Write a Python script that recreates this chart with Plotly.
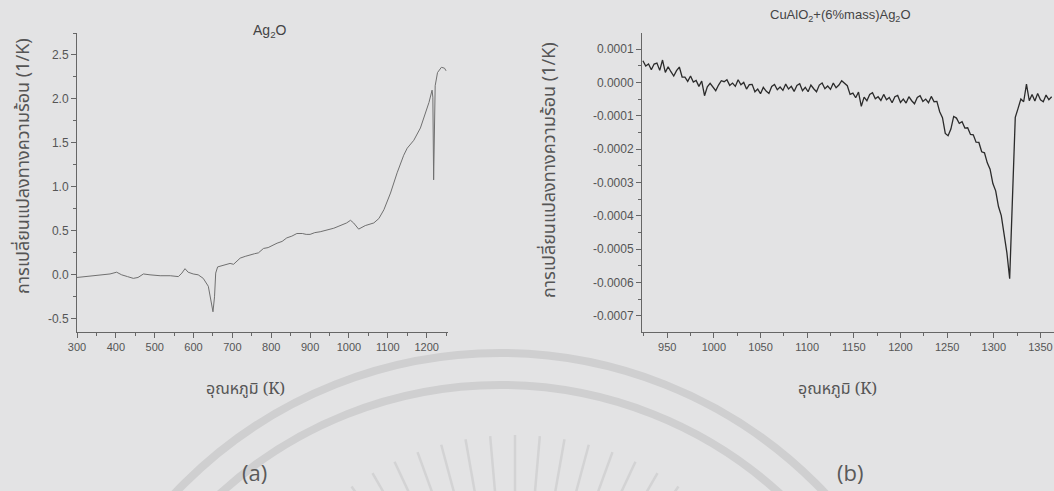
import plotly.graph_objects as go
import math

# ---------------- data ----------------
a_temp = [300, 320, 341, 360, 385, 402, 415, 430, 445, 457, 471, 488, 514, 540, 561, 570,
          578, 586, 599, 612, 625, 638, 645, 650, 654, 657, 662, 670, 677, 686, 694, 703,
          712, 720, 733, 746, 757, 767, 780, 792, 800, 815, 828, 840, 853, 866, 880, 890,
          900, 912, 926, 945, 961, 972, 982, 994, 1004, 1012, 1025, 1042, 1064, 1077, 1090,
          1107, 1124, 1141, 1150, 1167, 1184, 1197, 1206, 1214, 1216, 1218, 1220, 1222,
          1228, 1238, 1246, 1250]
a_val = [-0.03, -0.02, -0.01, 0.0, 0.01, 0.03, 0.0, -0.02, -0.04, -0.03, 0.01, 0.0, -0.01,
         -0.01, -0.02, 0.02, 0.07, 0.03, 0.01, 0.0, -0.04, -0.13, -0.28, -0.42, -0.25, 0.02,
         0.09, 0.10, 0.11, 0.12, 0.13, 0.12, 0.16, 0.19, 0.21, 0.23, 0.24, 0.25, 0.30, 0.31,
         0.33, 0.36, 0.38, 0.42, 0.44, 0.47, 0.47, 0.46, 0.46, 0.48, 0.49, 0.51, 0.53, 0.55,
         0.57, 0.59, 0.62, 0.59, 0.52, 0.56, 0.59, 0.64, 0.74, 0.93, 1.16, 1.36, 1.44, 1.53,
         1.67, 1.84, 1.96, 2.10, 2.02, 1.08, 1.70, 2.15, 2.30, 2.36, 2.35, 2.32]

b_temp = [924, 927, 930, 933, 936, 939, 942, 945, 948, 951,
          954, 957, 960, 963, 966, 969, 972, 975, 978, 981,
          984, 987, 990, 993, 996, 999, 1002, 1005, 1008, 1011,
          1014, 1017, 1020, 1023, 1026, 1029, 1032, 1035, 1038, 1041,
          1044, 1047, 1050, 1053, 1056, 1059, 1062, 1065, 1068, 1071,
          1074, 1077, 1080, 1083, 1086, 1089, 1092, 1095, 1098, 1101,
          1104, 1107, 1110, 1113, 1116, 1119, 1122, 1125, 1128, 1131,
          1134, 1137, 1140, 1143, 1146, 1149, 1152, 1155, 1158, 1161,
          1164, 1167, 1170, 1173, 1176, 1179, 1182, 1185, 1188, 1191,
          1194, 1197, 1200, 1203, 1206, 1209, 1212, 1215, 1218, 1221,
          1224, 1227, 1230, 1233, 1236, 1239, 1242, 1245, 1248, 1251,
          1254, 1257, 1260, 1263, 1266, 1269, 1272, 1275, 1278, 1281,
          1284, 1287, 1290, 1293, 1296, 1299, 1302, 1305, 1308, 1311,
          1314, 1317, 1320, 1323, 1326, 1329, 1332, 1335, 1338, 1341,
          1344, 1347, 1350, 1353, 1356, 1359, 1362]
b_val = [0.65e-4, 0.49e-4, 0.55e-4, 0.38e-4, 0.55e-4, 0.58e-4, 0.36e-4, 0.67e-4, 0.30e-4, 0.47e-4,
         0.32e-4, 0.19e-4, 0.35e-4, 0.46e-4, 0.16e-4, 0.16e-4, 0.03e-4, 0.19e-4, 0.01e-4, 0.06e-4,
         -0.12e-4, 0.04e-4, -0.40e-4, -0.13e-4, -0.03e-4, -0.15e-4, -0.25e-4, -0.08e-4, 0.05e-4, 0.02e-4,
         0.08e-4, -0.09e-4, -0.02e-4, -0.12e-4, 0.08e-4, -0.07e-4, 0.00e-4, -0.20e-4, -0.07e-4, -0.06e-4,
         -0.28e-4, -0.20e-4, -0.34e-4, -0.15e-4, -0.26e-4, -0.33e-4, -0.12e-4, -0.06e-4, -0.22e-4, -0.14e-4,
         -0.24e-4, -0.05e-4, -0.20e-4, -0.12e-4, -0.27e-4, -0.09e-4, -0.04e-4, -0.25e-4, -0.15e-4, -0.28e-4,
         -0.08e-4, -0.19e-4, -0.28e-4, -0.08e-4, -0.02e-4, -0.19e-4, -0.11e-4, -0.21e-4, -0.02e-4, -0.16e-4,
         -0.08e-4, 0.05e-4, -0.03e-4, -0.10e-4, -0.36e-4, -0.32e-4, -0.46e-4, -0.29e-4, -0.72e-4, -0.44e-4,
         -0.55e-4, -0.36e-4, -0.31e-4, -0.49e-4, -0.43e-4, -0.54e-4, -0.36e-4, -0.52e-4, -0.45e-4, -0.61e-4,
         -0.43e-4, -0.39e-4, -0.60e-4, -0.50e-4, -0.62e-4, -0.43e-4, -0.55e-4, -0.64e-4, -0.45e-4, -0.40e-4,
         -0.57e-4, -0.50e-4, -0.61e-4, -0.42e-4, -0.58e-4, -0.57e-4, -0.88e-4, -1.06e-4, -1.53e-4, -1.60e-4,
         -1.40e-4, -1.02e-4, -1.07e-4, -1.23e-4, -1.18e-4, -1.37e-4, -1.36e-4, -1.56e-4, -1.57e-4, -1.79e-4,
         -1.80e-4, -2.08e-4, -2.11e-4, -2.41e-4, -2.60e-4, -3.03e-4, -3.25e-4, -3.72e-4, -3.99e-4, -4.58e-4,
         -5.10e-4, -5.88e-4, -3.30e-4, -1.05e-4, -0.78e-4, -0.50e-4, -0.58e-4, -0.05e-4, -0.55e-4, -0.36e-4,
         -0.56e-4, -0.33e-4, -0.52e-4, -0.58e-4, -0.38e-4, -0.52e-4, -0.43e-4]

a_xticks = [300, 400, 500, 600, 700, 800, 900, 1000, 1100, 1200]
a_yticks = [-0.5, 0.0, 0.5, 1.0, 1.5, 2.0, 2.5]
a_yticklabels = ["-0.5", "0.0", "0.5", "1.0", "1.5", "2.0", "2.5"]
b_xticks = [950, 1000, 1050, 1100, 1150, 1200, 1250, 1300, 1350]
b_yticks = [-0.0007, -0.0006, -0.0005, -0.0004, -0.0003, -0.0002, -0.0001, 0.0, 0.0001]
b_yticklabels = ["-0.0007", "-0.0006", "-0.0005", "-0.0004", "-0.0003", "-0.0002",
                 "-0.0001", "0.0000", "0.0001"]

title_a = "Ag<sub>2</sub>O"
title_b = "CuAlO<sub>2</sub>+(6%mass)Ag<sub>2</sub>O"
ytitle = "การเปลี่ยนแปลงทางความร้อน (1/K)"
xtitle = "อุณหภูมิ (K)"

# ---------------- layout helpers ----------------
W, H = 1054, 491
BG = "#e3e3e4"


def px(x):
    return x / W


def py(y):
    return 1 - y / H


fig = go.Figure()
fig.add_trace(go.Scatter(x=a_temp, y=a_val, mode="lines", xaxis="x", yaxis="y",
                         line=dict(color="#707070", width=1), showlegend=False))
fig.add_trace(go.Scatter(x=b_temp, y=b_val, mode="lines", xaxis="x2", yaxis="y2",
                         line=dict(color="#2b2b2b", width=1.3), showlegend=False))

xtickfont = dict(family="Liberation Sans, Arial", size=11, color="#555555")
ytickfont = dict(family="Liberation Sans, Arial", size=12, color="#555555")
axcommon = dict(showline=True, linecolor="#666666", linewidth=1, ticks="outside",
                ticklen=5, tickcolor="#666666", tickwidth=1, showgrid=False,
                zeroline=False, mirror=False, automargin=False)

fig.update_layout(
    width=W, height=H,
    margin=dict(l=0, r=0, t=0, b=0, autoexpand=False),
    paper_bgcolor=BG, plot_bgcolor="rgba(0,0,0,0)",
    xaxis=dict(domain=[px(77), px(448)], range=[300, 1255], tickvals=a_xticks,
               minor=dict(ticks="outside", ticklen=3, tickcolor="#666666", dtick=50),
               anchor="y", tickfont=xtickfont, **axcommon),
    yaxis=dict(domain=[py(332), py(33)], range=[-0.65, 2.75], tickvals=a_yticks,
               ticktext=a_yticklabels,
               minor=dict(ticks="outside", ticklen=3, tickcolor="#666666", dtick=0.25),
               anchor="x", tickfont=ytickfont, **axcommon),
    xaxis2=dict(domain=[px(642), 1.0], range=[923, 1364.5], tickvals=b_xticks,
                minor=dict(ticks="outside", ticklen=3, tickcolor="#666666", dtick=25),
                anchor="y2", tickfont=xtickfont, **axcommon),
    yaxis2=dict(domain=[py(332), py(33)], range=[-0.000748, 0.000148], tickvals=b_yticks,
                ticktext=b_yticklabels,
                minor=dict(ticks="outside", ticklen=3, tickcolor="#666666", dtick=0.00005),
                anchor="x2", tickfont=ytickfont, **axcommon),
)

ann = []
ann.append(dict(text=title_a, x=px(270), y=py(31), font=dict(family="Liberation Sans, Arial",
                size=14, color="#444444")))
ann.append(dict(text=title_b, x=px(840), y=py(16), font=dict(family="Liberation Sans, Arial",
                size=13, color="#444444")))
ann.append(dict(text=ytitle, x=px(22), y=py(166), textangle=-90,
                font=dict(family="Noto Sans, Noto Sans Thai, sans-serif", size=18, color="#555555")))
ann.append(dict(text=ytitle, x=px(548), y=py(170), textangle=-90,
                font=dict(family="Noto Sans, Noto Sans Thai, sans-serif", size=18, color="#555555")))
ann.append(dict(text=xtitle, x=px(245), y=py(388),
                font=dict(family="Noto Serif, Noto Sans Thai, serif", size=16, color="#555555")))
ann.append(dict(text=xtitle, x=px(837), y=py(388),
                font=dict(family="Noto Serif, Noto Sans Thai, serif", size=16, color="#555555")))
ann.append(dict(text="(a)", x=px(254), y=py(472),
                font=dict(family="Open Sans, Liberation Sans", size=22, color="#5a5a5a")))
ann.append(dict(text="(b)", x=px(850), y=py(472),
                font=dict(family="Open Sans, Liberation Sans", size=22, color="#5a5a5a")))
for a in ann:
    a.update(xref="paper", yref="paper", showarrow=False, xanchor="center", yanchor="middle")
fig.update_layout(annotations=ann)

# ---------------- faint watermark (decoration) ----------------
shapes = []
cx, cy = 500, 800
for r in (447, 415):
    shapes.append(dict(type="circle", xref="paper", yref="paper",
                       x0=px(cx - r), x1=px(cx + r), y0=py(cy + r), y1=py(cy - r),
                       line=dict(color="#cfcfd0", width=8), layer="below"))
rcx, rcy = 515, 720
for k in range(-7, 8):
    th = math.radians(k * 5)
    r1, r2 = 285, 190
    shapes.append(dict(type="line", xref="paper", yref="paper",
                       x0=px(rcx + r1 * math.sin(th)), y0=py(rcy - r1 * math.cos(th)),
                       x1=px(rcx + r2 * math.sin(th)), y1=py(rcy - r2 * math.cos(th)),
                       line=dict(color="#d3d3d4", width=2.5), layer="below"))
fig.update_layout(shapes=shapes)

fig.write_html("out.html", config={"displayModeBar": False},
               post_script="document.body.style.margin='0';")
